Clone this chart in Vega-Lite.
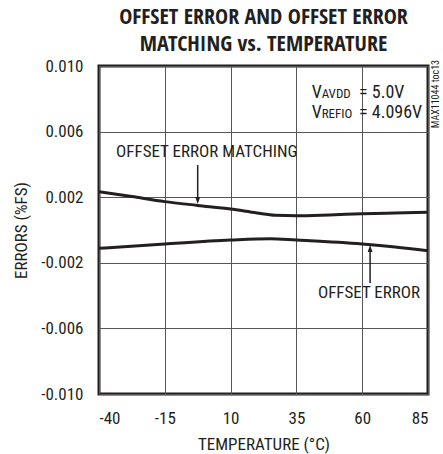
{
  "$schema": "https://vega.github.io/schema/vega-lite/v6.json",
  "width": 329,
  "height": 328,
  "autosize": "none",
  "padding": {"left": 99, "top": 66, "right": 15, "bottom": 60},
  "background": "white",
  "title": {
    "text": ["OFFSET ERROR AND OFFSET ERROR", "MATCHING vs. TEMPERATURE"],
    "font": "Open Sans Condensed",
    "fontWeight": "bold",
    "fontSize": 22,
    "lineHeight": 27,
    "color": "#231f20",
    "anchor": "middle",
    "frame": "group",
    "offset": 1
  },
  "datasets": {
    "matching": [
      {"t": -40, "v": 0.00234},
      {"t": -27.5, "v": 0.00204},
      {"t": -15, "v": 0.00173},
      {"t": -2.5, "v": 0.0015},
      {"t": 10, "v": 0.00128},
      {"t": 20, "v": 0.00104},
      {"t": 27, "v": 0.0009},
      {"t": 35, "v": 0.00087},
      {"t": 47.5, "v": 0.00092},
      {"t": 60, "v": 0.00099},
      {"t": 72.5, "v": 0.00104},
      {"t": 85, "v": 0.00108}
    ],
    "offset": [
      {"t": -40, "v": -0.00112},
      {"t": -15, "v": -0.00085},
      {"t": 10, "v": -0.00061},
      {"t": 25, "v": -0.00053},
      {"t": 35, "v": -0.00061},
      {"t": 60, "v": -0.00085},
      {"t": 72.5, "v": -0.00103},
      {"t": 85, "v": -0.00126}
    ],
    "arrows": [
      {"t": -2.5, "v1": 0.00396, "v2": 0.0018, "tip": 0.00158, "dir": "down"},
      {"t": 63, "v1": -0.00323, "v2": -0.0011, "tip": -0.00092, "dir": "up"}
    ]
  },
  "encoding": {
    "x": {
      "field": "t",
      "type": "quantitative",
      "scale": {"domain": [-40, 85], "nice": false, "zero": false},
      "axis": {"values": [-40, -15, 10, 35, 60, 85], "title": "TEMPERATURE (°C)", "titlePadding": 10, "labelPadding": 16, "labelExpr": "replace(datum.label, '−', '-')"}
    }
  },
  "layer": [
    {
      "data": {"name": "matching"},
      "mark": {"type": "line", "interpolate": "monotone", "color": "#231f20", "strokeWidth": 3},
      "encoding": {
        "y": {
          "field": "v",
          "type": "quantitative",
          "scale": {"domain": [-0.01, 0.01], "nice": false, "zero": false},
          "axis": {"values": [-0.01, -0.006, -0.002, 0.002, 0.006, 0.01], "format": ".3f", "labelExpr": "replace(datum.label, '−', '-')", "title": "ERRORS (%FS)", "titlePadding": 10, "labelPadding": 16}
        }
      }
    },
    {
      "data": {"name": "offset"},
      "mark": {"type": "line", "interpolate": "monotone", "color": "#231f20", "strokeWidth": 3},
      "encoding": {"y": {"field": "v", "type": "quantitative"}}
    },
    {
      "data": {"values": [{"t": -33.5, "v": 0.00476, "txt": "OFFSET ERROR MATCHING"}]},
      "mark": {"type": "text", "align": "left", "baseline": "middle", "font": "Roboto Condensed", "fontSize": 17, "color": "#231f20"},
      "encoding": {
        "y": {"field": "v", "type": "quantitative"},
        "text": {"field": "txt"}
      }
    },
    {
      "data": {"values": [{"t": 82, "v": -0.00384, "txt": "OFFSET ERROR"}]},
      "mark": {"type": "text", "align": "right", "baseline": "middle", "font": "Roboto Condensed", "fontSize": 17, "color": "#231f20"},
      "encoding": {
        "y": {"field": "v", "type": "quantitative"},
        "text": {"field": "txt"}
      }
    },
    {
      "data": {"name": "arrows"},
      "mark": {"type": "rule", "color": "#231f20", "strokeWidth": 1.5},
      "encoding": {
        "y": {"field": "v1", "type": "quantitative"},
        "y2": {"field": "v2"}
      }
    },
    {
      "data": {"name": "arrows"},
      "mark": {"type": "point", "filled": true, "color": "#231f20", "opacity": 1, "size": 49},
      "encoding": {
        "y": {"field": "tip", "type": "quantitative"},
        "shape": {"field": "dir", "type": "nominal", "scale": {"domain": ["down", "up"], "range": ["M0,0L-0.7,-2L0.7,-2Z", "M0,0L-0.7,2L0.7,2Z"]}, "legend": null}
      }
    },
    {
      "data": {"values": [
        {"t": 40.8, "v": 0.00806, "s": "V", "k": "main"},
        {"t": 44.6, "v": 0.00806, "s": "AVDD", "k": "sub"},
        {"t": 58.8, "v": 0.00806, "s": "= 5.0V", "k": "main"},
        {"t": 40.8, "v": 0.00684, "s": "V", "k": "main"},
        {"t": 44.6, "v": 0.00684, "s": "REFIO", "k": "sub"},
        {"t": 58.8, "v": 0.00684, "s": "= 4.096V", "k": "main"}
      ]},
      "mark": {"type": "text", "align": "left", "baseline": "alphabetic", "font": "Roboto Condensed", "color": "#231f20"},
      "encoding": {
        "y": {"field": "v", "type": "quantitative"},
        "text": {"field": "s"},
        "size": {"field": "k", "type": "nominal", "scale": {"domain": ["main", "sub"], "range": [18, 13]}, "legend": null},
        "dy": {"field": "k", "type": "nominal", "scale": {"domain": ["main", "sub"], "range": [0, 3]}}
      }
    },
    {
      "data": {"values": [{"t": 88, "v": 0.01037, "s": "MAX11044 toc13"}]},
      "mark": {"type": "text", "angle": 270, "align": "right", "baseline": "middle", "font": "Roboto Condensed", "fontSize": 10, "color": "#231f20"},
      "encoding": {
        "y": {"field": "v", "type": "quantitative"},
        "text": {"field": "s"}
      }
    }
  ],
  "config": {
    "view": {"stroke": "#231f20", "strokeWidth": 3},
    "axis": {
      "labelFont": "Roboto Condensed",
      "labelFontSize": 17,
      "labelColor": "#231f20",
      "titleFont": "Roboto Condensed",
      "titleFontSize": 17,
      "titleFontWeight": "normal",
      "titleColor": "#231f20",
      "domain": false,
      "ticks": false,
      "grid": true,
      "gridColor": "#555555",
      "gridWidth": 1,
      "gridOpacity": 1
    }
  }
}
